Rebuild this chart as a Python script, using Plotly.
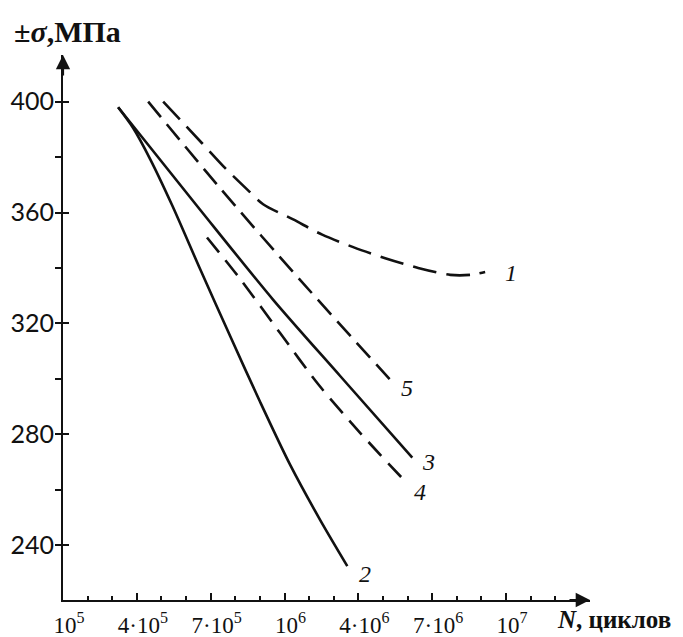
import plotly.graph_objects as go

# ---- data (N in cycles, sigma in MPa) ----
n1 = [5.07e5, 6.65e5, 7.59e5, 8.52e5, 9.13e5, 1.35e6, 2.53e6, 3.79e6, 5.09e6, 6.43e6, 7.73e6, 8.54e6, 9.15e6]
s1 = [400, 385, 376, 368, 363, 357.5, 352, 347.5, 343.5, 340, 337.5, 337.5, 338.5]

n2 = [3.24e5, 3.85e5, 4.54e5, 5.43e5, 6.57e5, 7.79e5, 9.01e5, 1.23e6, 2.45e6, 3.55e6]
s2 = [398, 390.5, 379.3, 362.7, 339.6, 315.4, 291.6, 268.9, 249.0, 232.4]

n3 = [3.24e5, 6.57e5, 9.54e5, 3.26e6, 6.19e6]
s3 = [398, 361, 328.5, 301, 271.5]

n4 = [6.85e5, 8.20e5, 9.82e5, 2.37e6, 4.07e6, 5.90e6]
s4 = [351, 336, 316.5, 298, 280.5, 263]

n5 = [4.46e5, 7.38e5, 1.63e6, 5.41e6]
s5 = [400, 368.8, 335.7, 298.5]

curve_names = ["1", "2", "3", "4", "5"]
label_n = [1.02e7, 4.28e6, 6.84e6, 6.51e6, 5.98e6]
label_s = [338.3, 229.5, 269.8, 259.0, 296.8]

tick_n = [1e5, 4e5, 7e5, 1e6, 4e6, 7e6, 1e7]
tick_text = ["10<sup>5</sup>", "4·10<sup>5</sup>", "7·10<sup>5</sup>", "10<sup>6</sup>",
             "4·10<sup>6</sup>", "7·10<sup>6</sup>", "10<sup>7</sup>"]
y_ticks = [240, 280, 320, 360, 400]


# the chart's N axis is linear inside each decade
def scale(n):
    if n <= 1e6:
        return n / 1e5 - 1
    return 9 + n / 1e6 - 1


def sc(lst):
    return [scale(v) for v in lst]


XMAX = 21.41
YMIN, YMAX = 220.15, 416.85
INK = "#111111"

fig = go.Figure()

styles = [
    (n1, s1, "24px,10px"),
    (n2, s2, "solid"),
    (n3, s3, "solid"),
    (n4, s4, "19px,10px"),
    (n5, s5, "20px,9px"),
]
for n, s, dash in styles:
    fig.add_trace(go.Scatter(
        x=sc(n), y=s, mode="lines",
        line=dict(color=INK, width=2.6, dash=dash, shape="spline", smoothing=0.8),
        showlegend=False, hoverinfo="skip"))

for name, n, s in zip(curve_names, label_n, label_s):
    fig.add_annotation(x=scale(n), y=s, xref="x", yref="y", text="<i>" + name + "</i>",
                       showarrow=False,
                       font=dict(family="Liberation Serif", size=24, color=INK),
                       xanchor="center", yanchor="middle")

# axis arrow heads
fig.add_annotation(x=XMAX, y=YMIN, xref="x", yref="y", ax=-22, ay=0, text="",
                   showarrow=True, arrowhead=2, arrowsize=1.3, arrowwidth=2.2, arrowcolor=INK)
fig.add_annotation(x=0, y=YMAX, xref="x", yref="y", ax=0, ay=22, text="",
                   showarrow=True, arrowhead=2, arrowsize=1.3, arrowwidth=2.2, arrowcolor=INK)

# axis titles
fig.add_annotation(x=-0.097, y=1.044, xref="paper", yref="paper",
                   text="<b>±<i>σ</i>,МПа</b>", showarrow=False,
                   xanchor="left", yanchor="middle",
                   font=dict(family="Liberation Serif", size=30, color=INK))
fig.add_annotation(x=1.157, y=-0.036, xref="paper", yref="paper",
                   text="<b><i>N</i>, циклов</b>", showarrow=False,
                   xanchor="right", yanchor="middle",
                   font=dict(family="Liberation Serif", size=25, color=INK))

fig.update_xaxes(
    range=[0, XMAX], showgrid=False, zeroline=False, automargin=False,
    showline=True, linecolor=INK, linewidth=2.2,
    tickmode="array", tickvals=sc(tick_n), ticktext=tick_text,
    ticks="inside", ticklen=7, tickwidth=1.5, tickcolor=INK,
    ticklabelstandoff=3, ticklabelshift=6,
    tickfont=dict(family="Liberation Serif", size=23, color=INK),
    minor=dict(ticks="inside", ticklen=4, tickwidth=1.5, tickcolor=INK, dtick=1, tick0=0, showgrid=False),
)
fig.update_yaxes(
    range=[YMIN, YMAX], showgrid=False, zeroline=False, automargin=False,
    showline=True, linecolor=INK, linewidth=2.2,
    tickmode="array", tickvals=y_ticks,
    ticks="inside", ticklen=6, tickwidth=1.5, tickcolor=INK,
    ticklabelstandoff=2,
    tickfont=dict(family="Lato", size=25, color=INK),
    minor=dict(ticks="outside", ticklen=6, tickwidth=1.5, tickcolor=INK, dtick=20, tick0=220, showgrid=False),
)

# page body has an 8px margin, so the figure is 8px smaller and offset
fig.update_layout(
    width=675, height=629,
    margin=dict(l=55, r=93, t=47, b=37, autoexpand=False),
    plot_bgcolor="white", paper_bgcolor="white",
)

fig.write_html("out.html")
